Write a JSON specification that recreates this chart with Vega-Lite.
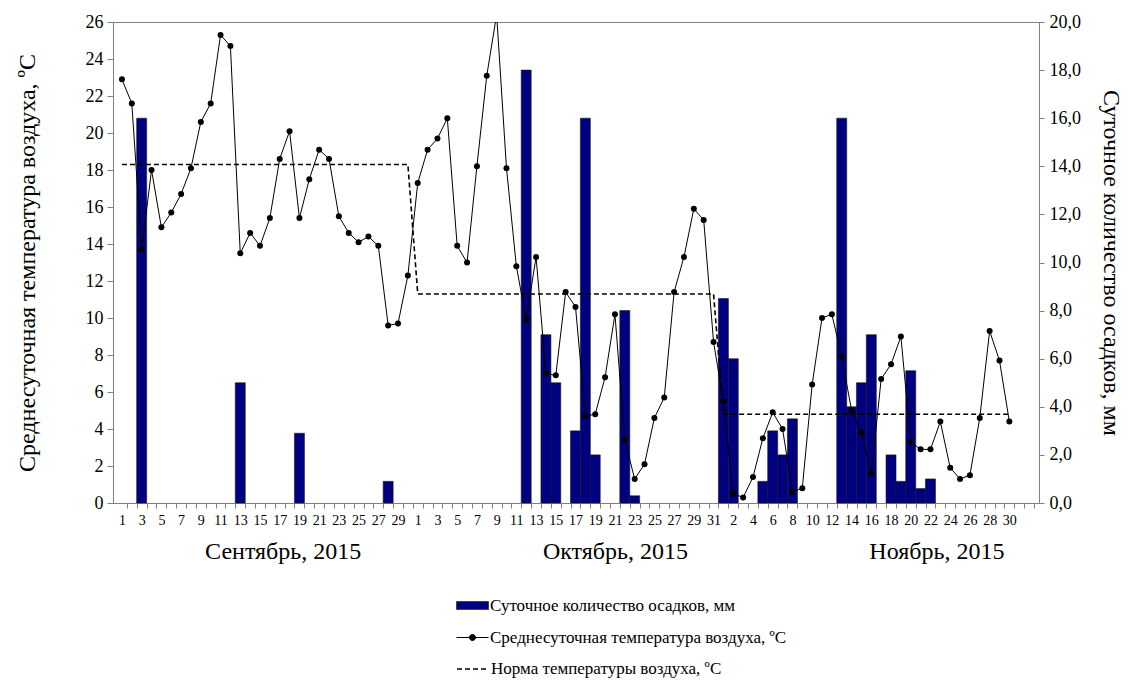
{
  "$schema": "https://vega.github.io/schema/vega-lite/v6.json",
  "autosize": "none",
  "width": 926,
  "height": 481,
  "padding": {"left": 113, "top": 22, "right": 100, "bottom": 177},
  "background": "white",
  "config": {
    "font": "Times New Roman",
    "view": {"stroke": "#808080", "strokeWidth": 1},
    "axis": {"grid": false, "domainColor": "#808080", "tickColor": "#808080", "labelColor": "black", "titleColor": "black", "labelFont": "Times New Roman", "titleFont": "Times New Roman", "titleFontWeight": "normal"},
    "legend": {"labelFont": "Times New Roman", "labelFontSize": 17, "labelColor": "black", "padding": 0, "labelOffset": 1, "labelLimit": 0}
  },
  "data": {
    "values": [
      {"i": 1, "t": 22.9, "n": 18.3},
      {"i": 2, "t": 21.6, "n": 18.3},
      {"i": 3, "t": 13.7, "n": 18.3, "p": 16.0},
      {"i": 4, "t": 18.0, "n": 18.3},
      {"i": 5, "t": 14.9, "n": 18.3},
      {"i": 6, "t": 15.7, "n": 18.3},
      {"i": 7, "t": 16.7, "n": 18.3},
      {"i": 8, "t": 18.1, "n": 18.3},
      {"i": 9, "t": 20.6, "n": 18.3},
      {"i": 10, "t": 21.6, "n": 18.3},
      {"i": 11, "t": 25.3, "n": 18.3},
      {"i": 12, "t": 24.7, "n": 18.3},
      {"i": 13, "t": 13.5, "n": 18.3, "p": 5.0},
      {"i": 14, "t": 14.6, "n": 18.3},
      {"i": 15, "t": 13.9, "n": 18.3},
      {"i": 16, "t": 15.4, "n": 18.3},
      {"i": 17, "t": 18.6, "n": 18.3},
      {"i": 18, "t": 20.1, "n": 18.3},
      {"i": 19, "t": 15.4, "n": 18.3, "p": 2.9},
      {"i": 20, "t": 17.5, "n": 18.3},
      {"i": 21, "t": 19.1, "n": 18.3},
      {"i": 22, "t": 18.6, "n": 18.3},
      {"i": 23, "t": 15.5, "n": 18.3},
      {"i": 24, "t": 14.6, "n": 18.3},
      {"i": 25, "t": 14.1, "n": 18.3},
      {"i": 26, "t": 14.4, "n": 18.3},
      {"i": 27, "t": 13.9, "n": 18.3},
      {"i": 28, "t": 9.6, "n": 18.3, "p": 0.9},
      {"i": 29, "t": 9.7, "n": 18.3},
      {"i": 30, "t": 12.3, "n": 18.3},
      {"i": 31, "t": 17.3, "n": 11.3},
      {"i": 32, "t": 19.1, "n": 11.3},
      {"i": 33, "t": 19.7, "n": 11.3},
      {"i": 34, "t": 20.8, "n": 11.3},
      {"i": 35, "t": 13.9, "n": 11.3},
      {"i": 36, "t": 13.0, "n": 11.3},
      {"i": 37, "t": 18.2, "n": 11.3},
      {"i": 38, "t": 23.1, "n": 11.3},
      {"i": 39, "t": 26.4, "n": 11.3},
      {"i": 40, "t": 18.1, "n": 11.3},
      {"i": 41, "t": 12.8, "n": 11.3},
      {"i": 42, "t": 9.9, "n": 11.3, "p": 18.0},
      {"i": 43, "t": 13.3, "n": 11.3},
      {"i": 44, "t": 7.0, "n": 11.3, "p": 7.0},
      {"i": 45, "t": 6.9, "n": 11.3, "p": 5.0},
      {"i": 46, "t": 11.4, "n": 11.3},
      {"i": 47, "t": 10.6, "n": 11.3, "p": 3.0},
      {"i": 48, "t": 4.7, "n": 11.3, "p": 16.0},
      {"i": 49, "t": 4.8, "n": 11.3, "p": 2.0},
      {"i": 50, "t": 6.8, "n": 11.3},
      {"i": 51, "t": 10.2, "n": 11.3},
      {"i": 52, "t": 3.4, "n": 11.3, "p": 8.0},
      {"i": 53, "t": 1.3, "n": 11.3, "p": 0.3},
      {"i": 54, "t": 2.1, "n": 11.3},
      {"i": 55, "t": 4.6, "n": 11.3},
      {"i": 56, "t": 5.7, "n": 11.3},
      {"i": 57, "t": 11.4, "n": 11.3},
      {"i": 58, "t": 13.3, "n": 11.3},
      {"i": 59, "t": 15.9, "n": 11.3},
      {"i": 60, "t": 15.3, "n": 11.3},
      {"i": 61, "t": 8.7, "n": 11.3},
      {"i": 62, "t": 5.5, "n": 4.8, "p": 8.5},
      {"i": 63, "t": 0.5, "n": 4.8, "p": 6.0},
      {"i": 64, "t": 0.3, "n": 4.8},
      {"i": 65, "t": 1.4, "n": 4.8},
      {"i": 66, "t": 3.5, "n": 4.8, "p": 0.9},
      {"i": 67, "t": 4.9, "n": 4.8, "p": 3.0},
      {"i": 68, "t": 4.0, "n": 4.8, "p": 2.0},
      {"i": 69, "t": 0.6, "n": 4.8, "p": 3.5},
      {"i": 70, "t": 0.8, "n": 4.8},
      {"i": 71, "t": 6.4, "n": 4.8},
      {"i": 72, "t": 10.0, "n": 4.8},
      {"i": 73, "t": 10.2, "n": 4.8},
      {"i": 74, "t": 7.9, "n": 4.8, "p": 16.0},
      {"i": 75, "t": 5.0, "n": 4.8, "p": 4.0},
      {"i": 76, "t": 3.8, "n": 4.8, "p": 5.0},
      {"i": 77, "t": 1.6, "n": 4.8, "p": 7.0},
      {"i": 78, "t": 6.7, "n": 4.8},
      {"i": 79, "t": 7.5, "n": 4.8, "p": 2.0},
      {"i": 80, "t": 9.0, "n": 4.8, "p": 0.9},
      {"i": 81, "t": 3.3, "n": 4.8, "p": 5.5},
      {"i": 82, "t": 2.9, "n": 4.8, "p": 0.6},
      {"i": 83, "t": 2.9, "n": 4.8, "p": 1.0},
      {"i": 84, "t": 4.4, "n": 4.8},
      {"i": 85, "t": 1.9, "n": 4.8},
      {"i": 86, "t": 1.3, "n": 4.8},
      {"i": 87, "t": 1.5, "n": 4.8},
      {"i": 88, "t": 4.6, "n": 4.8},
      {"i": 89, "t": 9.3, "n": 4.8},
      {"i": 90, "t": 7.7, "n": 4.8},
      {"i": 91, "t": 4.4, "n": 4.8}
    ]
  },
  "layer": [
    {
      "mark": {"type": "bar", "size": 10, "stroke": "#1a1a1a", "strokeWidth": 0.6},
      "encoding": {
        "x": {
          "field": "i", "type": "quantitative",
          "scale": {"domain": [0.6, 93.5], "nice": false, "zero": false},
          "axis": {
            "orient": "bottom", "title": null, "labels": false, "ticks": true, "tickSize": 5, "domain": true,
            "values": [1.5,2.5,3.5,4.5,5.5,6.5,7.5,8.5,9.5,10.5,11.5,12.5,13.5,14.5,15.5,16.5,17.5,18.5,19.5,20.5,21.5,22.5,23.5,24.5,25.5,26.5,27.5,28.5,29.5,30.5,31.5,32.5,33.5,34.5,35.5,36.5,37.5,38.5,39.5,40.5,41.5,42.5,43.5,44.5,45.5,46.5,47.5,48.5,49.5,50.5,51.5,52.5,53.5,54.5,55.5,56.5,57.5,58.5,59.5,60.5,61.5,62.5,63.5,64.5,65.5,66.5,67.5,68.5,69.5,70.5,71.5,72.5,73.5,74.5,75.5,76.5,77.5,78.5,79.5,80.5,81.5,82.5,83.5,84.5,85.5,86.5,87.5,88.5,89.5,90.5,91.5,92.5,93.5]
          }
        },
        "y": {
          "field": "p", "type": "quantitative",
          "scale": {"domain": [0, 20], "nice": false},
          "axis": {
            "orient": "right", "title": "Суточное количество осадков, мм",
            "values": [0,2,4,6,8,10,12,14,16,18,20],
            "labelExpr": "replace(format(datum.value, '.1f'), '.', ',')",
            "labelFont": "Times New Roman", "titleFont": "Times New Roman",
            "labelFontSize": 18, "titleFontSize": 24, "tickSize": 5, "labelPadding": 5, "titlePadding": 18
          }
        },
        "fill": {
          "datum": "Суточное количество осадков, мм",
          "scale": {"range": ["#000080"]},
          "legend": {
            "title": null, "orient": "none", "legendX": 343, "legendY": 567, "labelFont": "Times New Roman",
            "symbolType": "M-1,-0.25H1V0.25H-1Z", "symbolSize": 1024,
            "symbolStrokeColor": "#1a1a1a", "symbolStrokeWidth": 0.6
          }
        }
      }
    },
    {
      "mark": {"type": "line", "strokeWidth": 1.6, "color": "black"},
      "encoding": {
        "x": {
          "field": "i", "type": "quantitative",
          "axis": {
            "orient": "bottom", "title": null, "ticks": false, "tickSize": 0, "domain": false, "labelPadding": 10,
            "labelFont": "Times New Roman",
            "labelFontSize": 14, "labelFlush": false, "labelOverlap": false,
            "values": [1,3,5,7,9,11,13,15,17,19,21,23,25,27,29,31,33,35,37,39,41,43,45,47,49,51,53,55,57,59,61,63,65,67,69,71,73,75,77,79,81,83,85,87,89,91],
            "labelExpr": "datum.value <= 30 ? datum.value : datum.value <= 61 ? datum.value - 30 : datum.value - 61"
          }
        },
        "y": {
          "field": "n", "type": "quantitative",
          "scale": {"domain": [0, 26], "nice": false},
          "axis": {
            "orient": "left", "title": "Среднесуточная температура воздуха, ºC",
            "values": [0,2,4,6,8,10,12,14,16,18,20,22,24,26],
            "labelFont": "Times New Roman", "titleFont": "Times New Roman",
            "labelFontSize": 18, "titleFontSize": 24, "tickSize": 6, "labelPadding": 4, "titlePadding": 46
          }
        },
        "strokeDash": {
          "datum": "Норма температуры воздуха, ºC",
          "scale": {"range": [[5, 3]]},
          "legend": {
            "title": null, "orient": "none", "legendX": 343, "legendY": 630, "labelFont": "Times New Roman",
            "symbolType": "stroke", "symbolSize": 1024, "symbolStrokeColor": "black", "symbolStrokeWidth": 1.6
          }
        }
      }
    },
    {
      "mark": {"type": "line", "strokeWidth": 1, "color": "black", "clip": true},
      "encoding": {
        "x": {
          "field": "i", "type": "quantitative",
          "axis": {
            "orient": "bottom", "title": null, "ticks": false, "tickSize": 0, "domain": false, "labelPadding": 36,
            "labelFont": "Times New Roman",
            "labelFontSize": 24, "labelFlush": false, "labelOverlap": false,
            "values": [17.3, 51, 83.6],
            "labelExpr": "datum.value < 30 ? 'Сентябрь, 2015' : datum.value < 61 ? 'Октябрь, 2015' : 'Ноябрь, 2015'"
          }
        },
        "y": {
          "field": "t", "type": "quantitative",
          "scale": {"domain": [0, 26], "nice": false},
          "axis": null
        },
        "stroke": {
          "datum": "Среднесуточная температура воздуха, ºC",
          "scale": {"range": ["black"]},
          "legend": {
            "title": null, "orient": "none", "legendX": 343, "legendY": 599, "labelFont": "Times New Roman",
            "symbolType": "M-1,0H1M-0.19,0A0.19,0.19,0,1,1,0.19,0A0.19,0.19,0,1,1,-0.19,0Z",
            "symbolSize": 1024, "symbolStrokeWidth": 1, "symbolFillColor": "black",
            "encode": {"symbols": {"update": {"fill": {"value": "black"}}}}
          }
        }
      }
    },
    {
      "mark": {"type": "point", "filled": true, "color": "black", "size": 36, "opacity": 1, "clip": true},
      "encoding": {
        "x": {"field": "i", "type": "quantitative", "axis": null},
        "y": {
          "field": "t", "type": "quantitative",
          "scale": {"domain": [0, 26], "nice": false},
          "axis": null
        }
      }
    }
  ],
  "resolve": {
    "scale": {"y": "independent", "fill": "independent", "stroke": "independent", "strokeDash": "independent"},
    "axis": {"x": "independent"}
  }
}
